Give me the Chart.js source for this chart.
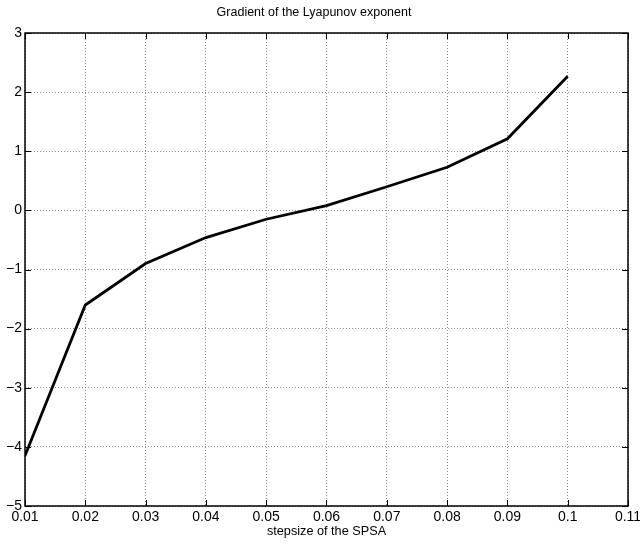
<!DOCTYPE html>
<html>
<head>
<meta charset="utf-8">
<script src="https://cdn.jsdelivr.net/npm/chart.js@4/dist/chart.umd.min.js"></script>
<style>
  html, body { margin:0; padding:0; background:#fff; }
  #wrap { width:640px; height:549px; }
</style>
</head>
<body>
<div id="wrap"><canvas id="chart" width="640" height="549"></canvas></div>
<script>
// ---------- DATA ----------
const stepsizes = [0.01, 0.02, 0.03, 0.04, 0.05, 0.06, 0.07, 0.08, 0.09, 0.1];
const gradient  = [-4.15, -1.6, -0.9, -0.46, -0.15, 0.08, 0.40, 0.73, 1.21, 2.27];
const xTicks = [0.01, 0.02, 0.03, 0.04, 0.05, 0.06, 0.07, 0.08, 0.09, 0.1, 0.11];
const yTicks = [-5, -4, -3, -2, -1, 0, 1, 2, 3];

const FONT = "'Liberation Sans', Arial, Helvetica, sans-serif";

// box + inward tick marks, matlab style
const boxPlugin = {
  id: "box",
  afterDraw(chart) {
    const {ctx, chartArea:a, scales} = chart;
    ctx.save();
    ctx.strokeStyle = "#000";
    ctx.lineWidth = 1;
    ctx.beginPath();
    xTicks.forEach(v => {
      const px = Math.round(scales.x.getPixelForValue(v)) + 0.5;
      ctx.moveTo(px, a.bottom); ctx.lineTo(px, a.bottom - 6);
      ctx.moveTo(px, a.top); ctx.lineTo(px, a.top + 6);
    });
    yTicks.forEach(v => {
      const py = Math.round(scales.y.getPixelForValue(v)) + 0.5;
      ctx.moveTo(a.left, py); ctx.lineTo(a.left + 6, py);
      ctx.moveTo(a.right, py); ctx.lineTo(a.right - 6, py);
    });
    ctx.stroke();
    ctx.lineWidth = 1.5;
    ctx.strokeRect(a.left, a.top, a.right - a.left, a.bottom - a.top);
    ctx.restore();
  }
};

new Chart(document.getElementById("chart"), {
  type: "line",
  data: {
    datasets: [{
      data: stepsizes.map((x, i) => ({ x: x, y: gradient[i] })),
      borderColor: "#000",
      borderWidth: 2.8,
      pointRadius: 0,
      tension: 0,
      fill: false
    }]
  },
  options: {
    responsive: false,
    animation: false,
    layout: { padding: { left: 0, right: 12, top: 0, bottom: 0 } },
    plugins: {
      legend: { display: false },
      tooltip: { enabled: false },
      title: {
        display: true,
        text: "Gradient of the Lyapunov exponent",
        color: "#000",
        font: { family: FONT, size: 12.5, weight: "normal" },
        padding: { top: 5, bottom: 13 }
      }
    },
    scales: {
      x: {
        type: "linear",
        min: 0.01, max: 0.11,
        afterBuildTicks: s => { s.ticks = xTicks.map(v => ({ value: v })); },
        afterFit: s => { s.height = 43; s.paddingLeft = 0; s.paddingRight = 0; },
        ticks: {
          color: "#000",
          padding: 3,
          maxRotation: 0,
          autoSkip: false,
          font: { family: FONT, size: 14 },
          callback: v => String(Number(v.toFixed(2)))
        },
        grid: { color: "#888", lineWidth: 1, drawTicks: false },
        border: { display: false, dash: [1, 2] },
        title: {
          display: true,
          text: "stepsize of the SPSA",
          color: "#000",
          font: { family: FONT, size: 12.7 },
          padding: { top: 0, bottom: 10 }
        }
      },
      y: {
        min: -5, max: 3,
        afterBuildTicks: s => { s.ticks = yTicks.map(v => ({ value: v })); },
        afterFit: s => { s.width = 25; s.paddingTop = 0; s.paddingBottom = 0; },
        ticks: {
          color: "#000",
          padding: 3,
          autoSkip: false,
          font: { family: FONT, size: 14 },
          callback: v => String(v).replace("-", "\u2212")
        },
        grid: { color: "#888", lineWidth: 1, drawTicks: false },
        border: { display: false, dash: [1, 2] }
      }
    }
  },
  plugins: [boxPlugin]
});
</script>
</body>
</html>
